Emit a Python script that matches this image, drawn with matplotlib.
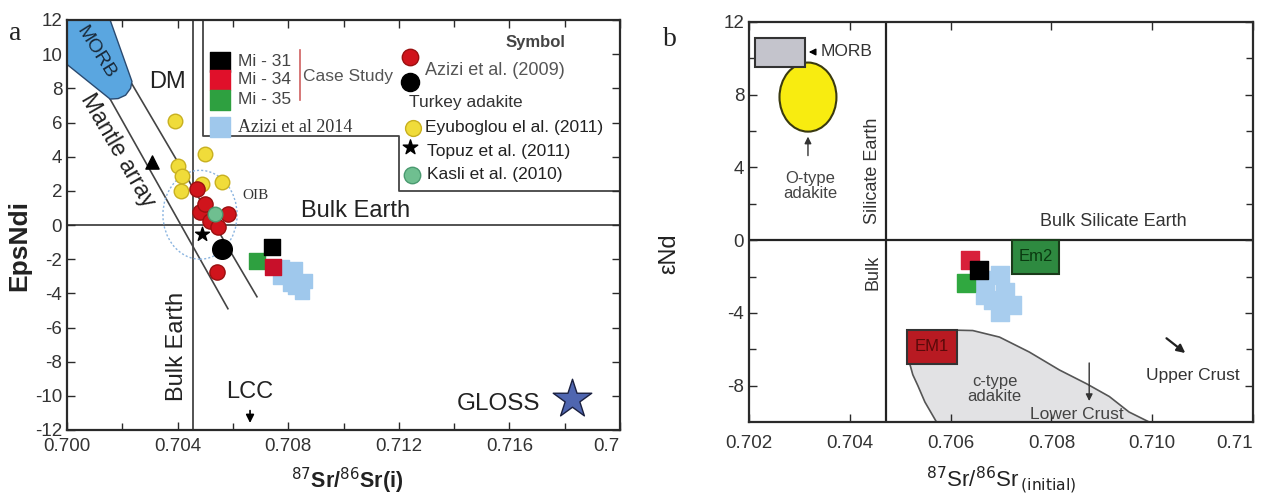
import matplotlib
matplotlib.use('Agg')
import matplotlib.pyplot as plt
from matplotlib.patches import Polygon, Ellipse, Rectangle
from matplotlib.lines import Line2D

plt.rcParams['font.family'] = ['Liberation Sans', 'DejaVu Sans']
plt.rcParams['axes.unicode_minus'] = False

# ---------------- Panel a data ----------------
eyub_x = [0.70391, 0.70499, 0.70401, 0.70416, 0.70412, 0.70488, 0.70560]
eyub_y = [6.1, 4.15, 3.45, 2.87, 2.0, 2.4, 2.5]
azizi09_red_x = [0.70470, 0.70481, 0.70499, 0.70517, 0.70546, 0.70582, 0.70542]
azizi09_red_y = [2.1, 0.76, 1.23, 0.23, -0.12, 0.64, -2.75]
azizi09_blk_x = [0.70560]
azizi09_blk_y = [-1.4]
topuz_x = [0.70488]
topuz_y = [-0.53]
kasli_x = [0.70535]
kasli_y = [0.64]
mi31_a = (0.70741, -1.29)
mi34_a = (0.70745, -2.46)
mi35_a = (0.70687, -2.10)
azizi14_a_x = [0.70778, 0.70825, 0.70861, 0.70807, 0.70850, 0.70770, 0.70825]
azizi14_a_y = [-2.46, -2.57, -3.27, -3.45, -3.92, -3.04, -3.63]
gloss = (0.71826, -10.2)
morb_a_x = [0.7000, 0.70156, 0.70235, 0.70230, 0.70212, 0.70185, 0.70156, 0.7000]
morb_a_y = [12.0, 12.0, 8.4, 8.0, 7.6, 7.4, 7.37, 9.4]
mantle1_x = [0.70156, 0.70582]
mantle1_y = [7.37, -4.9]
mantle2_x = [0.70235, 0.70687]
mantle2_y = [8.25, -4.2]
bulk_earth_sr_a = 0.70456
legend_box_x = [0.70492, 0.70492, 0.7120, 0.7120, 0.7200]
legend_box_y = [12.0, 5.2, 5.2, 2.0, 2.0]
oib_center = (0.70481, 0.6)
oib_size = (0.00268, 5.2)
xticks_a = [0.700, 0.704, 0.708, 0.712, 0.716, 0.720]
xticklabels_a = ['0.700', '0.704', '0.708', '0.712', '0.716', '0.7']
yticks_a = list(range(-12, 13, 2))

# ---------------- Panel b data ----------------
mi34_b = (0.70639, -1.10)
mi31_b = (0.70656, -1.65)
mi35_b = (0.70631, -2.37)
azizi14_b_x = [0.70668, 0.70698, 0.70708, 0.70684, 0.70722, 0.70668, 0.70698]
azizi14_b_y = [-2.2, -1.93, -2.86, -3.3, -3.58, -3.03, -3.96]
morb_b_x = (0.70212, 0.70311)
morb_b_y = (9.55, 11.1)
oadak_center = (0.70317, 7.87)
oadak_size = (0.00113, 3.8)
em1_x = (0.70513, 0.70612)
em1_y = (-6.8, -4.95)
em2_x = (0.70721, 0.70816)
em2_y = (-1.85, 0.0)
ctype_x = [0.70519, 0.70525, 0.70535, 0.70549, 0.70572, 0.70994, 0.70954,
           0.70915, 0.70870, 0.70816, 0.70756, 0.70697, 0.70644, 0.70612]
ctype_y = [-6.8, -7.4, -8.0, -8.9, -10.0, -10.0, -9.45,
           -8.6, -7.9, -7.14, -6.15, -5.33, -4.97, -4.95]
bulk_earth_sr_b = 0.70471
xticks_b = [0.702, 0.704, 0.706, 0.708, 0.710, 0.712]
xticklabels_b = ['0.702', '0.704', '0.706', '0.708', '0.710', '0.71']
yticks_b = [12, 8, 4, 0, -4, -8]

TXT = '#333333'
SP = '#2a2a2a'

fig = plt.figure(figsize=(12.66, 5.0), dpi=100)
axa = fig.add_axes([67/1266, 70/500, 553/1266, 410/500])
axb = fig.add_axes([749/1266, 78/500, 504/1266, 400/500])

for ax in (axa, axb):
    for s in ax.spines.values():
        s.set_color(SP)
        s.set_linewidth(1.6)
    ax.tick_params(direction='in', which='both', top=True, right=True,
                   colors=SP, labelcolor=TXT, labelsize=13.5, length=6, width=1.0)

# ================= Panel a =================
axa.set_xlim(0.700, 0.720)
axa.set_ylim(-12, 12)
axa.set_xticks(xticks_a)
axa.set_xticklabels(xticklabels_a)
axa.get_xticklabels()[-1].set_horizontalalignment('right')
axa.set_xticks([0.702, 0.706, 0.710, 0.714, 0.718], minor=True)
axa.tick_params(which='minor', length=5, width=1.0)
axa.tick_params(axis='x', pad=6)
axa.set_yticks(yticks_a)

axa.axhline(0, color='#444444', lw=1.3, zorder=1)
axa.axvline(bulk_earth_sr_a, color='#444444', lw=1.3, zorder=1)
axa.plot(mantle1_x, mantle1_y, color='#444444', lw=1.2, zorder=1)
axa.plot(mantle2_x, mantle2_y, color='#444444', lw=1.2, zorder=1)
axa.plot(legend_box_x, legend_box_y, color='#444444', lw=1.3, zorder=1)
axa.add_patch(Polygon(list(zip(morb_a_x, morb_a_y)), closed=True,
                      facecolor='#5aa6e0', edgecolor='#2a4a70', lw=1.0, zorder=2))
axa.add_patch(Ellipse(oib_center, oib_size[0], oib_size[1], fill=False,
                      edgecolor='#8ab4e0', lw=1.0, ls=(0, (1.5, 1.5)), zorder=2))

axa.text(0.70105, 10.1, 'MORB', rotation=-58, fontsize=14, color='#1a2a3a',
         ha='center', va='center', zorder=3)
axa.text(0.70365, 8.4, 'DM', fontsize=17, color='#222222', ha='center', va='center')
axa.text(0.70182, 4.35, 'Mantle array', rotation=-60, fontsize=16.5, color='#222222',
         ha='center', va='center')
axa.scatter([0.70307], [3.7], marker='^', s=90, color='black', zorder=3)
axa.text(0.7068, 1.7, 'OIB', family='Liberation Serif', fontsize=11, color=TXT,
         ha='center', va='center')
axa.text(0.70848, 0.8, 'Bulk Earth', fontsize=17, color='#222222', ha='left', va='center')
axa.text(0.70398, -7.1, 'Bulk Earth', rotation=90, fontsize=17, color='#222222',
         ha='center', va='center')
axa.text(0.70662, -9.8, 'LCC', fontsize=17, color='#222222', ha='center', va='center')
axa.annotate('', xy=(0.70662, -11.75), xytext=(0.70662, -10.7),
             arrowprops=dict(arrowstyle='-|>', color='black', lw=1.2, mutation_scale=12))
axa.text(0.7171, -10.5, 'GLOSS', fontsize=17.5, color='#222222', ha='right', va='center')
axa.scatter([gloss[0]], [gloss[1]], marker='*', s=850, color='#4f66b0',
            edgecolor='#1a2040', linewidth=1.0, zorder=4)

# data points
axa.scatter(eyub_x, eyub_y, s=110, color='#f0dc3a', edgecolor='#c8b020', lw=1.0, zorder=4)
axa.scatter(azizi09_red_x, azizi09_red_y, s=120, color='#d0141c', edgecolor='#9a1010',
            lw=1.0, zorder=5)
axa.scatter(kasli_x, kasli_y, s=110, color='#6fbf90', edgecolor='#4a9a70', lw=1.0, zorder=6)
axa.scatter(azizi09_blk_x, azizi09_blk_y, s=200, color='black', zorder=6)
axa.scatter(topuz_x, topuz_y, marker='*', s=110, color='black', zorder=6)
axa.scatter(azizi14_a_x, azizi14_a_y, marker='s', s=110, color='#9fc8ec', zorder=4)
axa.scatter([mi35_a[0]], [mi35_a[1]], marker='s', s=120, color='#2ea040', zorder=5)
axa.scatter([mi34_a[0]], [mi34_a[1]], marker='s', s=120, color='#c8102a', zorder=5)
axa.scatter([mi31_a[0]], [mi31_a[1]], marker='s', s=130, color='black', zorder=6)

# legend (in axes fraction)
T = axa.transAxes
leg_sq = [(0.898, 'black', 'Mi - 31'), (0.854, '#e0102a', 'Mi - 34'), (0.805, '#2ea040', 'Mi - 35')]
for yy, c, lab in leg_sq:
    axa.scatter([0.277], [yy], marker='s', s=190, color=c, transform=T, zorder=7, clip_on=False)
    axa.text(0.309, yy, lab, transform=T, fontsize=12.5, color='#444444', va='center')
axa.scatter([0.277], [0.739], marker='s', s=190, color='#9fc8ec', transform=T, zorder=7)
axa.text(0.309, 0.739, 'Azizi et al 2014', family='Liberation Serif', transform=T,
         fontsize=13, color='#333333', va='center')
axa.add_line(Line2D([0.421, 0.421], [0.805, 0.927], transform=T, color='#d06060', lw=1.2))
axa.text(0.427, 0.861, 'Case Study', transform=T, fontsize=12.5, color='#555555', va='center')
axa.scatter([0.620], [0.910], s=140, color='#d0141c', edgecolor='#9a1010', transform=T, zorder=7)
axa.scatter([0.620], [0.849], s=170, color='black', transform=T, zorder=7)
axa.text(0.647, 0.876, 'Azizi et al. (2009)', transform=T, fontsize=13, color='#555555', va='center')
axa.text(0.848, 0.946, 'Symbol', transform=T, fontsize=12, color='#444444', va='center',
         ha='center', fontweight='semibold')
axa.text(0.618, 0.798, 'Turkey adakite', transform=T, fontsize=12.5, color='#333333', va='center')
axa.scatter([0.626], [0.737], s=130, color='#f0dc3a', edgecolor='#c8b020', transform=T, zorder=7)
axa.text(0.647, 0.737, 'Eyuboglou el al. (2011)', transform=T, fontsize=12.5, color='#222222', va='center')
axa.scatter([0.620], [0.690], marker='*', s=120, color='black', transform=T, zorder=7)
axa.text(0.651, 0.679, 'Topuz et al. (2011)', transform=T, fontsize=12.5, color='#222222', va='center')
axa.scatter([0.624], [0.622], s=140, color='#6fbf90', edgecolor='#4a9a70', transform=T, zorder=7)
axa.text(0.651, 0.622, 'Kasli et al. (2010)', transform=T, fontsize=12.5, color='#222222', va='center')

axa.set_ylabel('EpsNdi', fontsize=19, fontweight='bold', color='#222222')
axa.yaxis.set_label_coords(-0.064, 0.45)
axa.set_xlabel(r'$^{87}$Sr/$^{86}$Sr(i)', fontsize=15.5, fontweight='bold', color='#222222')
axa.xaxis.set_label_coords(0.506, -0.088)
fig.text(15/1266, 1 - 33/500, 'a', family='Liberation Serif', fontsize=20, color='#222222',
         ha='center', va='center')

# ================= Panel b =================
axb.set_xlim(0.702, 0.712)
axb.set_ylim(-10, 12)
axb.set_xticks(xticks_b)
axb.set_xticklabels(xticklabels_b)
axb.get_xticklabels()[-1].set_horizontalalignment('right')
axb.set_yticks(yticks_b)
axb.set_yticks([10, 6, 2, -2, -6], minor=True)
axb.tick_params(which='minor', length=5, width=1.0)
axb.tick_params(axis='x', pad=9)

axb.axhline(0, color='#222222', lw=1.6, zorder=1)
axb.axvline(bulk_earth_sr_b, color='#222222', lw=1.6, zorder=1)
axb.add_patch(Polygon(list(zip(ctype_x, ctype_y)), closed=True, facecolor='#e2e2e4',
                      edgecolor='#555555', lw=1.2, zorder=1))
axb.add_patch(Rectangle((morb_b_x[0], morb_b_y[0]), morb_b_x[1] - morb_b_x[0],
                        morb_b_y[1] - morb_b_y[0], facecolor='#c4c4cc',
                        edgecolor='#333333', lw=1.5, zorder=3))
axb.add_patch(Ellipse(oadak_center, oadak_size[0], oadak_size[1], facecolor='#f8ec10',
                      edgecolor='#3a3a10', lw=1.5, zorder=2))
axb.add_patch(Rectangle((em1_x[0], em1_y[0]), em1_x[1] - em1_x[0], em1_y[1] - em1_y[0],
                        facecolor='#b81a22', edgecolor='#333333', lw=1.5, zorder=3))
axb.text((em1_x[0] + em1_x[1]) / 2, (em1_y[0] + em1_y[1]) / 2, 'EM1', fontsize=12,
         color='#5a0a0a', ha='center', va='center', zorder=4)
axb.add_patch(Rectangle((em2_x[0], em2_y[0]), em2_x[1] - em2_x[0], em2_y[1] - em2_y[0],
                        facecolor='#2e8a40', edgecolor='#1a3a1a', lw=1.5, zorder=3))
axb.text((em2_x[0] + em2_x[1]) / 2, (em2_y[0] + em2_y[1]) / 2, 'Em2', fontsize=12,
         color='#0a3a10', ha='center', va='center', zorder=4)

axb.annotate('MORB', xy=(0.70313, 10.35), xytext=(0.70342, 10.35), fontsize=12.5,
             color='#333333', va='center', ha='left',
             arrowprops=dict(arrowstyle='-|>', color='black', lw=1.0, mutation_scale=10))
axb.annotate('', xy=(0.70317, 5.85), xytext=(0.70317, 4.5),
             arrowprops=dict(arrowstyle='-|>', color='#333333', lw=1.0, mutation_scale=10))
axb.text(0.70321, 3.0, 'O-type\nadakite', fontsize=12, color='#444444', ha='center',
         va='center', linespacing=1.0)
axb.text(0.70446, 3.8, 'Silicate Earth', rotation=90, fontsize=13, color='#333333',
         ha='center', va='center')
axb.text(0.70446, -1.75, 'Bulk', rotation=90, fontsize=13, color='#333333',
         ha='center', va='center')
axb.text(0.70923, 1.0, 'Bulk Silicate Earth', fontsize=13, color='#333333',
         ha='center', va='center')
axb.text(0.70687, -8.2, 'c-type\nadakite', fontsize=12, color='#444444', ha='center',
         va='center', linespacing=1.0)
axb.text(0.7085, -9.6, 'Lower Crust', fontsize=12.5, color='#444444', ha='center', va='center')
axb.annotate('', xy=(0.70875, -9.0), xytext=(0.70875, -6.6),
             arrowprops=dict(arrowstyle='-|>', color='#333333', lw=1.0, mutation_scale=10))
axb.text(0.7108, -7.45, 'Upper Crust', fontsize=12.5, color='#333333', ha='center', va='center')
axb.annotate('', xy=(0.7107, -6.3), xytext=(0.71024, -5.3),
             arrowprops=dict(arrowstyle='-|>', color='#222222', lw=1.6, mutation_scale=12))

axb.scatter(azizi14_b_x, azizi14_b_y, marker='s', s=150, color='#a8cdee', zorder=4)
axb.scatter([mi34_b[0]], [mi34_b[1]], marker='s', s=150, color='#d8203a', zorder=5)
axb.scatter([mi35_b[0]], [mi35_b[1]], marker='s', s=150, color='#30a840', zorder=5)
axb.scatter([mi31_b[0]], [mi31_b[1]], marker='s', s=150, color='black', zorder=6)

axb.set_ylabel('εNd', fontsize=17, color='#222222')
axb.yaxis.set_label_coords((680 - 749) / 504, 0.42)
axb.set_xlabel(r'$^{87}$Sr/$^{86}$Sr$_{\,\mathrm{(initial)}}$', fontsize=16, color='#222222')
axb.xaxis.set_label_coords(0.5, -0.105)
fig.text(670/1266, 1 - 40/500, 'b', family='Liberation Serif', fontsize=20, color='#222222',
         ha='center', va='center')

fig.savefig('out.png', dpi=100)
